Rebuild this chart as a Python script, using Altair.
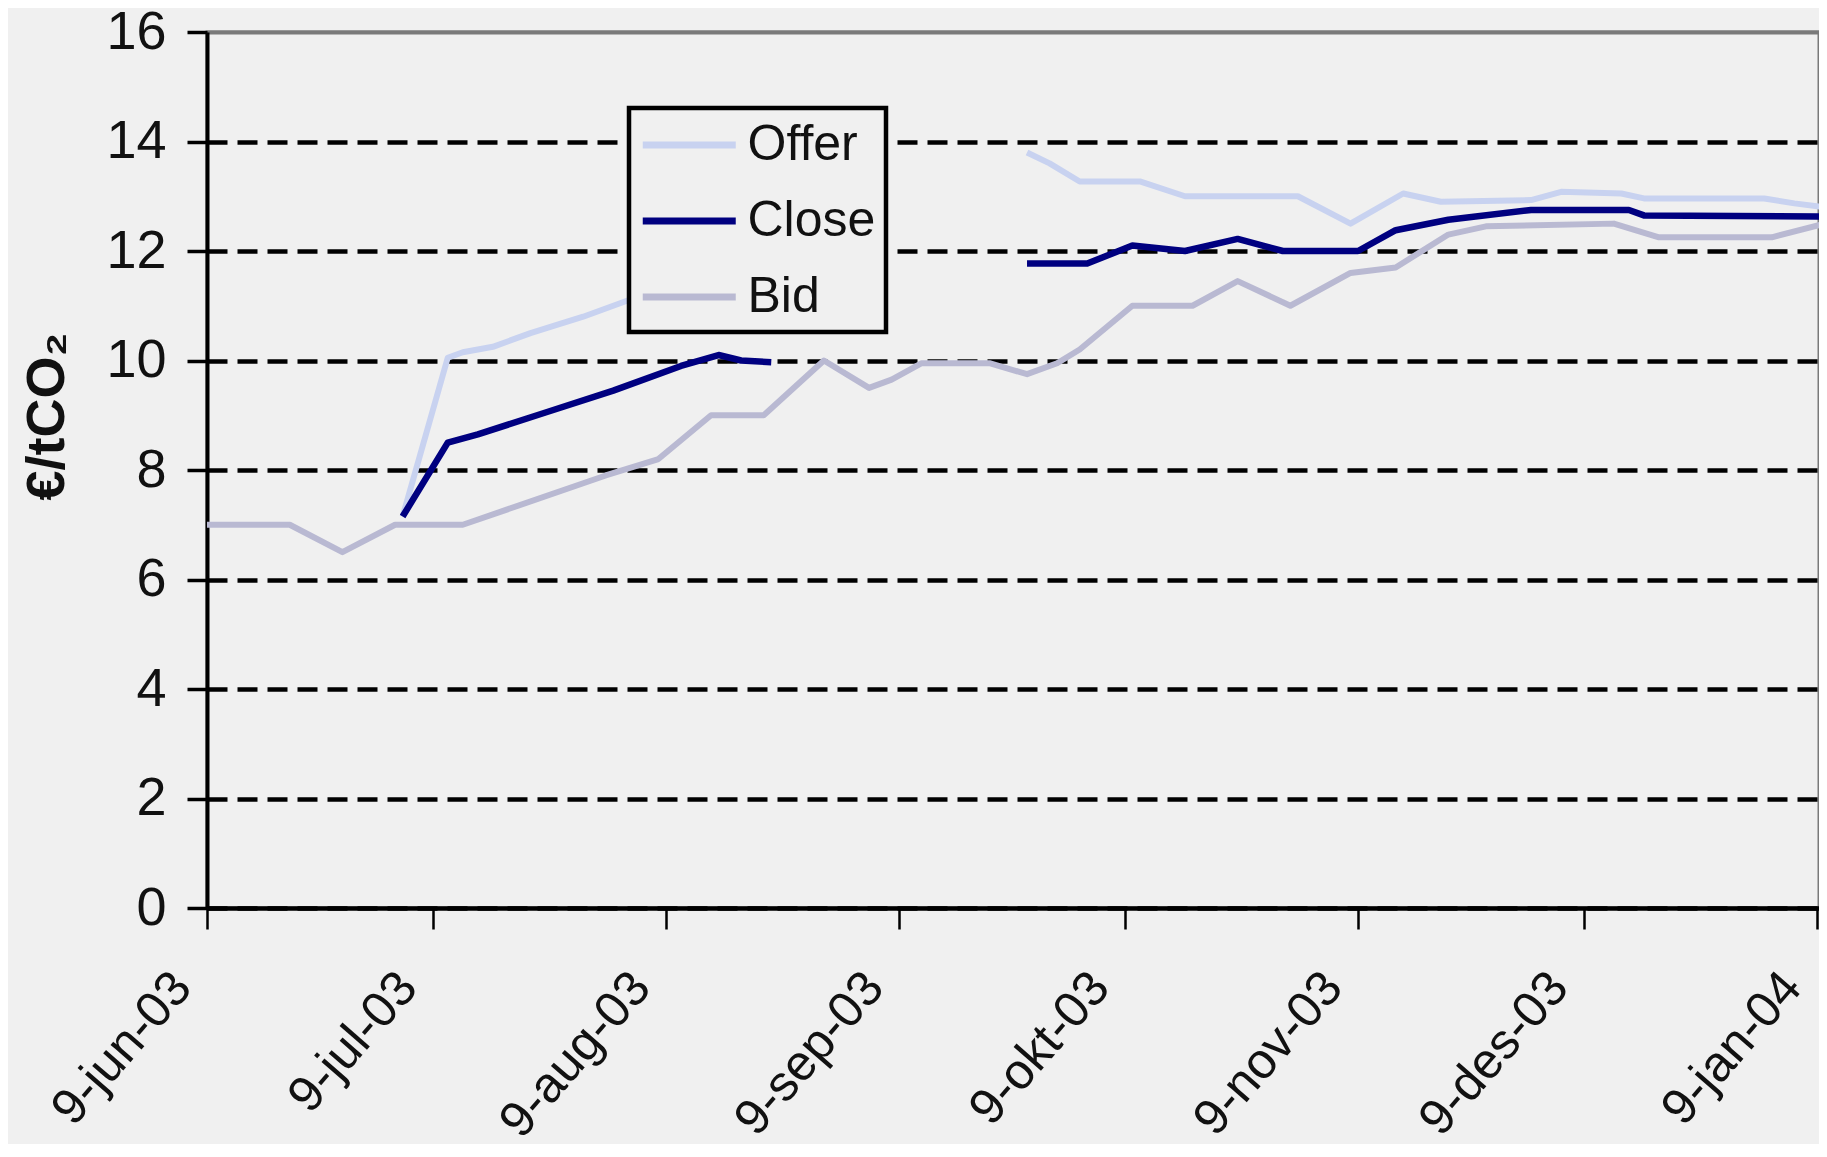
import altair as alt
import pandas as pd

# ---- data ----
bid_dates = ["2003-06-09", "2003-06-20", "2003-06-27", "2003-07-04", "2003-07-13",
             "2003-08-01", "2003-08-08", "2003-08-15", "2003-08-22", "2003-08-30",
             "2003-09-05", "2003-09-08", "2003-09-12", "2003-09-21", "2003-09-26",
             "2003-09-30", "2003-10-03", "2003-10-10", "2003-10-18", "2003-10-24",
             "2003-10-31", "2003-11-08", "2003-11-14", "2003-11-21", "2003-11-26",
             "2003-12-13", "2003-12-19", "2004-01-03", "2004-01-10"]
bid_values = [7.0, 7.0, 6.5, 7.0, 7.0,
              7.9, 8.2, 9.0, 9.0, 10.0,
              9.5, 9.65, 9.95, 9.95, 9.75,
              9.95, 10.2, 11.0, 11.0, 11.45,
              11.0, 11.6, 11.7, 12.3, 12.45,
              12.5, 12.25, 12.25, 12.5]

offer_dates_1 = ["2003-07-05", "2003-07-11", "2003-07-13", "2003-07-17", "2003-07-22",
                 "2003-07-29", "2003-08-04", "2003-08-11", "2003-08-18", "2003-08-23"]
offer_values_1 = [7.15, 10.05, 10.15, 10.25, 10.5, 10.8, 11.1, 11.3, 11.5, 11.6]
offer_dates_2 = ["2003-09-26", "2003-09-29", "2003-10-03", "2003-10-11", "2003-10-17",
                 "2003-11-01", "2003-11-08", "2003-11-15", "2003-11-20", "2003-12-02",
                 "2003-12-06", "2003-12-14", "2003-12-17", "2004-01-02", "2004-01-06",
                 "2004-01-10"]
offer_values_2 = [13.8, 13.6, 13.27, 13.27, 13.0, 13.0, 12.5, 13.05, 12.9, 12.93,
                  13.08, 13.05, 12.96, 12.96, 12.87, 12.8]

close_dates_1 = ["2003-07-05", "2003-07-11", "2003-07-15", "2003-07-24", "2003-08-02",
                 "2003-08-11", "2003-08-16", "2003-08-19", "2003-08-23"]
close_values_1 = [7.15, 8.5, 8.65, 9.05, 9.45, 9.9, 10.1, 10.0, 9.97]
close_dates_2 = ["2003-09-26", "2003-10-04", "2003-10-10", "2003-10-17", "2003-10-24",
                 "2003-10-30", "2003-11-09", "2003-11-14", "2003-11-21", "2003-12-02",
                 "2003-12-15", "2003-12-17", "2004-01-10"]
close_values_2 = [11.77, 11.77, 12.1, 12.0, 12.22, 12.0, 12.0, 12.38, 12.57, 12.75,
                  12.75, 12.65, 12.63]

series_names = ["Offer", "Close", "Bid"]
series_colors = ["#c8d2f0", "#000080", "#b9b9d2"]

tick_dates = [(2003, 6), (2003, 7), (2003, 8), (2003, 9), (2003, 10), (2003, 11),
              (2003, 12), (2004, 1)]
tick_labels = ["9-jun-03", "9-jul-03", "9-aug-03", "9-sep-03", "9-okt-03",
               "9-nov-03", "9-des-03", "9-jan-04"]
y_ticks = [0, 2, 4, 6, 8, 10, 12, 14, 16]

# ---- build table ----
rows = []
def add(name, seg, dates, vals):
    for d, v in zip(dates, vals):
        rows.append({"date": d + "T00:00:00", "value": v, "series": name, "seg": seg})

add("Bid", "bid1", bid_dates, bid_values)
add("Offer", "offer1", offer_dates_1, offer_values_1)
add("Offer", "offer2", offer_dates_2, offer_values_2)
add("Close", "close1", close_dates_1, close_values_1)
add("Close", "close2", close_dates_2, close_values_2)
df = pd.DataFrame(rows)

month_map = [""] * 12
for (yy, mm), lab in zip(tick_dates, tick_labels):
    month_map[mm - 1] = lab
label_expr = "[" + ",".join("'" + m + "'" for m in month_map) + "][month(datum.value)]"

FONT = "Liberation Sans, Arial, sans-serif"

x_enc = alt.X(
    "date:T",
    scale=alt.Scale(domain=[alt.DateTime(year=2003, month=6, date=9),
                            alt.DateTime(year=2004, month=1, date=9, hours=6, minutes=30)]),
    axis=alt.Axis(
        values=[alt.DateTime(year=yy, month=mm, date=9) for yy, mm in tick_dates],
        labelExpr=label_expr,
        labelAngle=-49, labelAlign="right", labelBaseline="middle",
        labelFont=FONT, labelFontSize=50, labelColor="#111", labelLimit=0,
        labelPadding=50, labelOffset=-25,
        labelOverlap=False, labelBound=False, labelFlush=False,
        domainColor="black", domainWidth=4.5,
        tickColor="black", tickWidth=2.5, tickSize=21,
        grid=False, title=None,
    ),
)
y_enc = alt.Y(
    "value:Q",
    scale=alt.Scale(domain=[0, 16], nice=False, zero=True),
    axis=alt.Axis(
        values=y_ticks,
        labelFont=FONT, labelFontSize=54, labelColor="#111", labelPadding=21,
        domainColor="black", domainWidth=4,
        tickColor="black", tickWidth=3.5, tickSize=20,
        grid=True,
        gridColor=alt.condition("datum.value >= 16", alt.value("#7a7a7a"), alt.value("black")),
        gridDash=alt.condition("datum.value >= 16", alt.value([1, 0]), alt.value([20, 10])),
        gridWidth=alt.condition("datum.value >= 16", alt.value(4), alt.value(4.5)),
        title="€/tCO₂", titleFont=FONT,
        titleFontSize=54, titleFontWeight="bold", titleColor="#111",
        titleAngle=-90, titleAlign="center", titleBaseline="middle",
        titleX=-160, titleY=384,
    ),
)
color_enc = alt.Color(
    "series:N",
    scale=alt.Scale(domain=series_names, range=series_colors),
    legend=alt.Legend(
        title=None, orient="none", legendX=422, legendY=76,
        symbolType="M-1,0H3", symbolSize=2162, symbolStrokeWidth=7,
        labelFont=FONT, labelFontSize=50, labelColor="#111", labelOffset=54.5,
        rowPadding=24, padding=10,
        strokeColor="black", fillColor="#f0f0f0",
    ),
)

def layer(name, width):
    return alt.Chart(df).transform_filter(
        alt.datum.series == name
    ).mark_line(strokeWidth=width, strokeJoin="round").encode(
        x=x_enc, y=y_enc, color=color_enc, detail="seg:N"
    )

chart = alt.layer(
    layer("Bid", 6), layer("Offer", 6), layer("Close", 6.5)
).properties(
    width=1612, height=876,
    autosize=alt.AutoSizeParams(type="none"),
    padding={"left": 199, "top": 24, "right": 0, "bottom": 236},
).configure(
    background="#f0f0f0",
).configure_view(
    stroke="#7a7a7a", strokeWidth=3,
).configure_legend(
    strokeWidth=4.5,
)

chart.save("out.html", embed_options={"renderer": "svg", "actions": False})
